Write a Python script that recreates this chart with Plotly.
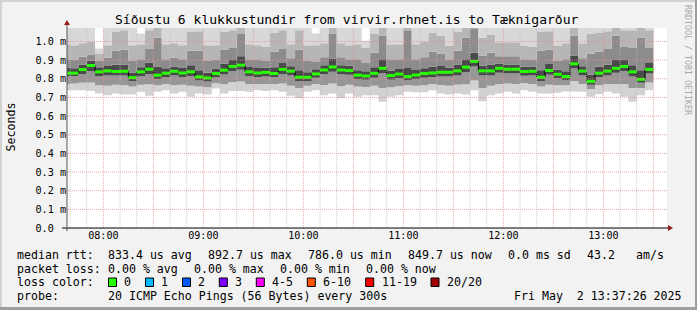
import plotly.graph_objects as go
from datetime import datetime, timedelta

# ---------------- data (milliseconds) ----------------
start_time = "2025-05-02 07:35:00"
step_minutes = 5
median = [0.830,0.830,0.849,0.871,0.837,0.842,0.839,0.840,0.806,0.837,
          0.851,0.819,0.830,0.840,0.831,0.837,0.810,0.804,0.828,0.846,
          0.866,0.873,0.837,0.831,0.834,0.828,0.850,0.841,0.808,0.808,
          0.826,0.847,0.863,0.847,0.844,0.819,0.815,0.829,0.856,0.817,
          0.825,0.812,0.820,0.828,0.831,0.835,0.835,0.842,0.862,0.893,
          0.842,0.842,0.856,0.851,0.851,0.839,0.840,0.808,0.844,0.824,
          0.812,0.880,0.841,0.786,0.830,0.841,0.856,0.866,0.837,0.797,0.850]
ping1 = [0.739,0.739,0.739,0.734,0.721,0.712,0.721,0.716,0.716,0.730,
         0.709,0.730,0.739,0.721,0.730,0.704,0.721,0.716,0.748,0.721,
         0.734,0.734,0.730,0.739,0.734,0.739,0.730,0.709,0.695,0.730,
         0.739,0.712,0.721,0.695,0.721,0.704,0.712,0.712,0.677,0.704,
         0.712,0.730,0.727,0.727,0.739,0.721,0.716,0.721,0.716,0.739,
         0.680,0.712,0.721,0.730,0.721,0.739,0.730,0.721,0.721,0.725,
         0.732,0.732,0.730,0.704,0.717,0.730,0.721,0.704,0.677,0.712,0.739]
ping4 = [0.772,0.774,0.778,0.780,0.765,0.762,0.768,0.765,0.758,0.768,
         0.770,0.765,0.772,0.766,0.768,0.762,0.758,0.755,0.776,0.770,
         0.782,0.785,0.770,0.772,0.772,0.772,0.774,0.762,0.750,0.762,
         0.772,0.766,0.775,0.760,0.768,0.758,0.756,0.762,0.750,0.755,
         0.760,0.765,0.763,0.765,0.772,0.766,0.763,0.768,0.770,0.790,
         0.750,0.762,0.772,0.775,0.772,0.776,0.772,0.758,0.768,0.765,
         0.765,0.788,0.772,0.745,0.765,0.772,0.772,0.770,0.750,0.750,0.780]
ping8 = [0.812,0.813,0.826,0.840,0.815,0.818,0.817,0.818,0.788,0.815,
         0.825,0.798,0.810,0.818,0.810,0.814,0.790,0.785,0.808,0.823,
         0.840,0.848,0.815,0.810,0.812,0.808,0.826,0.818,0.786,0.788,
         0.806,0.824,0.838,0.824,0.822,0.798,0.794,0.806,0.830,0.795,
         0.803,0.792,0.798,0.806,0.810,0.812,0.812,0.818,0.836,0.865,
         0.818,0.818,0.832,0.828,0.828,0.816,0.818,0.788,0.822,0.803,
         0.792,0.855,0.818,0.768,0.808,0.818,0.832,0.842,0.812,0.778,0.828]
ping13 = [0.858,0.856,0.876,0.896,0.862,0.868,0.875,0.876,0.834,0.862,
          0.886,0.865,0.856,0.866,0.858,0.872,0.846,0.832,0.855,0.880,
          0.900,0.920,0.863,0.857,0.859,0.862,0.884,0.867,0.845,0.835,
          0.851,0.873,0.908,0.873,0.870,0.846,0.840,0.862,0.905,0.844,
          0.852,0.858,0.847,0.856,0.866,0.868,0.860,0.877,0.905,0.940,
          0.870,0.876,0.882,0.877,0.877,0.864,0.865,0.845,0.879,0.850,
          0.840,0.925,0.867,0.822,0.864,0.876,0.900,0.900,0.872,0.845,0.885]
ping16 = [0.905,0.900,0.918,0.930,0.895,0.912,0.950,0.955,0.895,0.905,
          0.960,1.020,0.905,0.912,0.905,0.950,0.950,0.895,0.900,0.955,
          0.965,1.040,0.905,0.900,0.895,0.945,0.960,0.910,0.955,0.895,
          0.890,0.915,1.040,0.915,0.905,0.905,0.885,0.940,1.030,0.905,
          0.905,1.060,0.905,0.915,0.945,0.935,0.900,0.950,1.020,1.070,
          0.925,0.940,0.920,0.920,0.920,0.905,0.900,0.950,0.955,0.895,
          0.905,1.030,0.910,0.935,0.945,0.960,1.030,0.970,0.965,1.020,0.965]
ping18 = [0.985,0.980,0.990,1.000,0.935,0.980,1.050,1.060,0.980,0.985,
          1.060,1.140,0.985,0.990,0.980,1.050,1.055,0.980,0.980,1.050,
          1.060,1.150,0.985,0.980,0.970,1.045,1.060,0.985,1.060,0.980,
          0.980,0.990,1.150,0.990,0.980,0.985,0.965,1.040,1.140,0.985,
          0.985,1.160,0.985,1.000,1.045,1.030,0.975,1.050,1.130,1.170,
          1.020,1.035,0.995,0.995,0.995,0.975,0.970,1.050,1.055,0.975,
          0.990,1.140,0.990,1.040,1.045,1.055,1.130,1.060,1.060,1.130,1.060]
ping20 = [1.12,1.11,1.12,1.10,0.962,1.12,1.20,1.20,1.10,1.043,
          1.18,1.30,1.12,1.12,1.10,1.20,1.20,1.10,1.12,1.20,
          1.20,1.30,1.12,1.10,1.08,1.18,1.20,1.12,1.20,1.10,
          1.043,1.12,1.30,1.12,1.10,1.12,1.004,1.18,1.30,1.12,
          1.12,1.30,1.12,1.12,1.20,1.18,1.09,1.20,1.30,1.30,
          1.15,1.18,1.12,1.12,1.12,1.10,1.09,1.20,1.20,1.09,
          1.12,1.30,1.12,1.18,1.20,1.20,1.30,1.20,1.20,1.30,1.20]

x_range = ["2025-05-02 07:38:10", "2025-05-02 13:38:10"]
x_tick_vals = ["2025-05-02 08:00", "2025-05-02 08:30", "2025-05-02 09:00", "2025-05-02 09:30",
               "2025-05-02 10:00", "2025-05-02 10:30", "2025-05-02 11:00", "2025-05-02 11:30",
               "2025-05-02 12:00", "2025-05-02 12:30", "2025-05-02 13:00", "2025-05-02 13:30"]
x_tick_text = ["08:00", "", "09:00", "", "10:00", "", "11:00", "", "12:00", "", "13:00", ""]
y_tick_vals = [0.0, 0.1, 0.2, 0.3, 0.4, 0.5, 0.6, 0.7, 0.8, 0.9, 1.0]
y_tick_text = ["0.0\u00a0\u00a0", "0.1 m", "0.2 m", "0.3 m", "0.4 m", "0.5 m",
               "0.6 m", "0.7 m", "0.8 m", "0.9 m", "1.0 m"]
y_max = 1.072

title = "Síðustu 6 klukkustundir from virvir.rhnet.is to Tæknigarður"
rtt_stats = ["833.4 us avg", "892.7 us max", "786.0 us min", "849.7 us now", "0.0 ms sd", "43.2", "am/s"]
loss_stats = ["0.00 % avg", "0.00 % max", "0.00 % min", "0.00 % now"]
loss_labels = ["0", "1", "2", "3", "4-5", "6-10", "11-19", "20/20"]
loss_colors = ["#26ff00", "#00b8ff", "#0059ff", "#7e00ff", "#ff00ff", "#ff5500", "#ff0000", "#a10000"]
probe_text = "20 ICMP Echo Pings (56 Bytes) every 300s"
date_text = "Fri May  2 13:37:26 2025"

# ---------------- layout geometry ----------------
W, H = 697, 310
L, T, PW, PH = 67, 28, 600, 200
MONO = "DejaVu Sans Mono"

def pxx(x):
    return (x - L) / PW

def pxy(y):
    return (T + PH - y) / PH

t_start = datetime.strptime(start_time, "%Y-%m-%d %H:%M:%S")
step = timedelta(minutes=step_minutes)
times = [t_start + i * step for i in range(len(median))]
t_edges = times + [times[-1] + step]

def ext(a):
    return list(a) + [a[-1]]

fig = go.Figure()

smoke = [ping1, ping4, ping8, ping13, ping16, ping18, ping20]
smoke_colors = [None, "#d2d2d2", "#969696", "#4a4a4a", "#8c8c8c", "#b6b6b6", "#d8d8d8"]
for arr, col in zip(smoke, smoke_colors):
    fig.add_trace(go.Scatter(
        x=t_edges, y=ext(arr), mode="lines", line=dict(width=0, shape="hv"),
        fill=None if col is None else "tonexty",
        fillcolor=col, hoverinfo="skip", showlegend=False))

# black median step line
fig.add_trace(go.Scatter(x=t_edges, y=ext(median), mode="lines",
                         line=dict(color="#000000", width=1, shape="hv"),
                         hoverinfo="skip", showlegend=False))
# green horizontal median bars
gx, gy = [], []
for i, v in enumerate(median):
    gx += [times[i], times[i] + step, None]
    gy += [v, v, None]
fig.add_trace(go.Scatter(x=gx, y=gy, mode="lines",
                         line=dict(color=loss_colors[0], width=3),
                         hoverinfo="skip", showlegend=False))

shapes = []
# grid (drawn above the smoke, like rrdtool)
grid_major = "rgba(225,140,140,0.75)"
grid_minor = "rgba(190,190,190,0.8)"
t_grid = datetime(2025, 5, 2, 7, 40)
while t_grid <= datetime(2025, 5, 2, 13, 30):
    major = (t_grid.minute % 30 == 0)
    shapes.append(dict(type="line", xref="x", yref="paper", x0=t_grid, x1=t_grid, y0=0, y1=1,
                       line=dict(color=grid_major if major else grid_minor, width=1, dash="1px,1px"),
                       layer="above"))
    t_grid += timedelta(minutes=10)
for v in y_tick_vals[1:]:
    shapes.append(dict(type="line", xref="paper", yref="y", x0=pxx(62), x1=1, y0=v, y1=v,
                       line=dict(color=grid_major, width=1, dash="1px,1px"), layer="above"))

# axes lines and arrows
shapes.append(dict(type="line", xref="paper", yref="paper", x0=pxx(62), x1=pxx(669), y0=0, y1=0,
                   line=dict(color="#000000", width=1), layer="above"))
shapes.append(dict(type="line", xref="paper", yref="paper", x0=0, x1=0, y0=pxy(231), y1=pxy(23),
                   line=dict(color="#555555", width=1), layer="above"))
arrow_col = "#9b1c1c"
shapes.append(dict(type="path", xref="paper", yref="paper",
                   path=f"M {pxx(668)},{pxy(225)} L {pxx(673)},{pxy(228)} L {pxx(668)},{pxy(231)} Z",
                   fillcolor=arrow_col, line=dict(width=0), layer="above"))
shapes.append(dict(type="path", xref="paper", yref="paper",
                   path=f"M {pxx(64)},{pxy(25)} L {pxx(67)},{pxy(20)} L {pxx(70)},{pxy(25)} Z",
                   fillcolor=arrow_col, line=dict(width=0), layer="above"))

# outer frame (3D look)
shapes.append(dict(type="rect", xref="paper", yref="paper", x0=pxx(0), x1=pxx(2), y0=pxy(H), y1=pxy(0),
                   fillcolor="#d2d2d2", line=dict(width=0), layer="below"))
shapes.append(dict(type="rect", xref="paper", yref="paper", x0=pxx(0), x1=pxx(W), y0=pxy(2), y1=pxy(0),
                   fillcolor="#d2d2d2", line=dict(width=0), layer="below"))
shapes.append(dict(type="rect", xref="paper", yref="paper", x0=pxx(W - 2), x1=pxx(W), y0=pxy(H), y1=pxy(0),
                   fillcolor="#9e9e9e", line=dict(width=0), layer="below"))
shapes.append(dict(type="rect", xref="paper", yref="paper", x0=pxx(0), x1=pxx(W), y0=pxy(H), y1=pxy(H - 3),
                   fillcolor="#9e9e9e", line=dict(width=0), layer="below"))

# loss colour boxes
box_x = [108.5, 145.5, 182.5, 219.3, 256.3, 307.3, 365.7, 431.0]
for bx, col in zip(box_x, loss_colors):
    shapes.append(dict(type="rect", xref="paper", yref="paper",
                       x0=pxx(bx), x1=pxx(bx + 8), y0=pxy(286.5), y1=pxy(278),
                       fillcolor=col, line=dict(color="#000000", width=1), layer="above"))

ann = []
def text(x, y, s, size=11.6, color="#000000", **kw):
    ann.append(dict(x=pxx(x), y=pxy(y), xref="paper", yref="paper", text=s.replace("  ", " \u00a0"),
                    showarrow=False, xanchor=kw.pop("xanchor", "left"), yanchor="middle",
                    font=dict(family=MONO, size=size, color=color), borderpad=0, **kw))

text(347.2, 19.5, title, size=13.05, xanchor="center")
text(10, 127.5, "Seconds", size=11.6, xanchor="center", textangle=-90)
text(688, 60, "RRDTOOL / TOBI OETIKER", size=8.3, color="#a8a8a8", xanchor="center", textangle=90)

r1, r2, r3, r4 = 255.0, 268.7, 282.3, 296.0
text(16, r1, "median rtt:")
for s, x in zip(rtt_stats, [106.6, 206.6, 306.6, 407.0, 507.0, 586.0, 635.0]):
    text(x, r1, s)
text(16, r2, "packet loss:")
for s, x in zip(loss_stats, [106.6, 193.3, 278.6, 365.3]):
    text(x, r2, s)
text(16, r3, "loss color:")
for s, bx in zip(loss_labels, box_x):
    text(bx + 14.8, r3, s)
text(16, r4, "probe:")
text(106.6, r4, probe_text)
text(512.6, r4, date_text)

fig.update_layout(
    width=W, height=H,
    margin=dict(l=L, r=W - L - PW, t=T, b=H - T - PH, pad=0),
    paper_bgcolor="#f2f2f2", plot_bgcolor="#ffffff",
    showlegend=False, shapes=shapes, annotations=ann,
    xaxis=dict(type="date", range=x_range, tickmode="array", tickvals=x_tick_vals, ticktext=x_tick_text,
               showgrid=False, zeroline=False, showline=False, ticks="",
               tickfont=dict(family=MONO, size=10.15, color="#000000"), fixedrange=True),
    yaxis=dict(range=[0, y_max], tickmode="array", tickvals=y_tick_vals, ticktext=y_tick_text,
               showgrid=False, zeroline=False, showline=False, ticks="",
               tickfont=dict(family=MONO, size=10.15, color="#000000"), fixedrange=True),
)

fig.write_html("out.html")
